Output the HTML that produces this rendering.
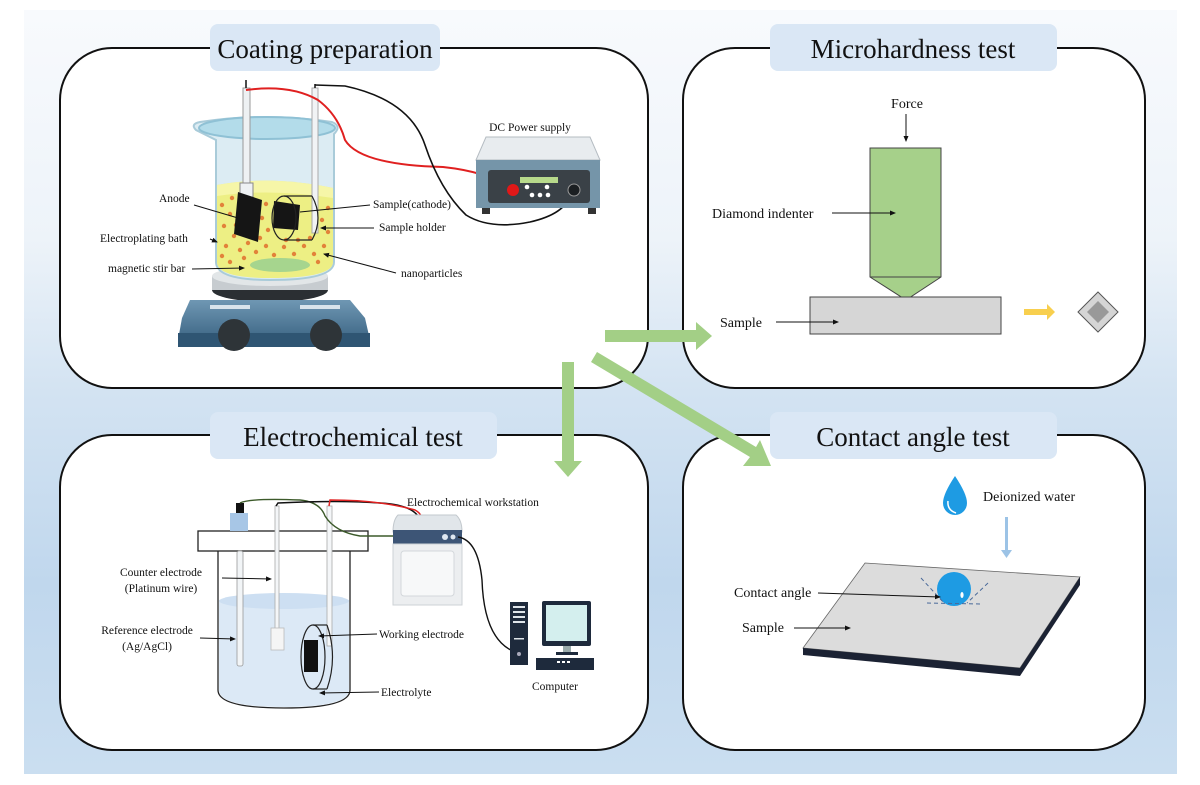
<!DOCTYPE html>
<html><head><meta charset="utf-8"><style>
html,body{margin:0;padding:0;background:#fff}
svg{display:block}
text{font-family:"Liberation Serif",serif;fill:#111}
</style></head><body>
<svg width="1200" height="785" viewBox="0 0 1200 785" xmlns="http://www.w3.org/2000/svg">
<defs>
<linearGradient id="bg" x1="0" y1="0" x2="0" y2="1">
<stop offset="0" stop-color="#f8fafd"/>
<stop offset="0.3" stop-color="#edf3f9"/>
<stop offset="0.5" stop-color="#d3e3f2"/>
<stop offset="0.75" stop-color="#c0d7ed"/>
<stop offset="1" stop-color="#cadef0"/>
</linearGradient>
<linearGradient id="plate" x1="0" y1="0" x2="0" y2="1"><stop offset="0" stop-color="#6f97b3"/><stop offset="1" stop-color="#3d6685"/></linearGradient>
<marker id="ah" markerWidth="6" markerHeight="6" refX="5" refY="3" orient="auto" markerUnits="userSpaceOnUse"><path d="M0,0.5 L6,3 L0,5.5 Z" fill="#111"/></marker>
</defs>
<rect x="24" y="10" width="1153" height="764" fill="url(#bg)"/>

<g fill="#fff" stroke="#111" stroke-width="2">
<rect x="60" y="48" width="588" height="340" rx="52"/>
<rect x="683" y="48" width="462" height="340" rx="52"/>
<rect x="60" y="435" width="588" height="315" rx="52"/>
<rect x="683" y="435" width="462" height="315" rx="52"/>
</g>
<g fill="#dae7f5">
<rect x="210" y="24" width="230" height="47" rx="8"/>
<rect x="770" y="24" width="287" height="47" rx="8"/>
<rect x="210" y="412" width="287" height="47" rx="8"/>
<rect x="770" y="412" width="287" height="47" rx="8"/>
</g>
<g font-size="27" text-anchor="middle">
<text x="325" y="58">Coating preparation</text>
<text x="913" y="58">Microhardness test</text>
<text x="353" y="446">Electrochemical test</text>
<text x="913" y="446">Contact angle test</text>
</g>

<g fill="#a3cf86">
<path d="M605,330 L696,330 L696,322 L712,336 L696,350 L696,342 L605,342 Z"/>
<path d="M562,362 L574,362 L574,461 L582,461 L568,477 L554,461 L562,461 Z"/>
<path d="M597,352 L756,447 L760,440 L771,466 L743,466 L750,457 L591,362 Z"/>
</g>

<!-- Coating preparation -->
<ellipse cx="270" cy="290" rx="58" ry="12" fill="#2b2f33"/>
<rect x="212" y="276" width="116" height="14" fill="#c7ccd0"/>
<ellipse cx="270" cy="276" rx="58" ry="10" fill="#e2e6e8"/>
<path d="M190,300 L350,300 L365,318 L370,340 L178,340 L182,318 Z" fill="url(#plate)"/>
<rect x="178" y="333" width="192" height="14" fill="#2f5573"/>
<rect x="210" y="305" width="40" height="4" fill="#d8e4ec"/>
<rect x="300" y="305" width="40" height="4" fill="#d8e4ec"/>
<circle cx="234" cy="335" r="16" fill="#2e3438"/>
<circle cx="326" cy="335" r="16" fill="#2e3438"/>
<path d="M196,130 Q190,124 200,122 Q265,112 332,122 Q342,126 334,134 L334,262 Q334,280 270,280 Q216,280 216,262 L216,140 Z" fill="#dcecf3" stroke="#a9cbd9" stroke-width="2"/>
<ellipse cx="267" cy="128" rx="68" ry="11" fill="#b3dcea" stroke="#8fc1d5" stroke-width="2"/>
<path d="M217,185 Q270,175 333,188 L333,262 Q333,278 270,278 Q217,278 217,262 Z" fill="#eef078" opacity="0.9"/>
<path d="M217,185 Q270,175 333,188 L333,198 Q270,188 217,196 Z" fill="#f6f6a8"/>
<g fill="#e2823a">
<circle cx="222" cy="205" r="2.2"/><circle cx="230" cy="214" r="2.2"/><circle cx="224" cy="226" r="2.2"/><circle cx="234" cy="236" r="2.2"/><circle cx="226" cy="246" r="2.2"/><circle cx="240" cy="250" r="2.2"/><circle cx="222" cy="256" r="2.2"/><circle cx="248" cy="243" r="2.2"/><circle cx="256" cy="252" r="2.2"/><circle cx="266" cy="246" r="2.2"/><circle cx="274" cy="255" r="2.2"/><circle cx="284" cy="247" r="2.2"/><circle cx="294" cy="254" r="2.2"/><circle cx="304" cy="246" r="2.2"/><circle cx="314" cy="254" r="2.2"/><circle cx="324" cy="246" r="2.2"/><circle cx="328" cy="232" r="2.2"/><circle cx="322" cy="220" r="2.2"/><circle cx="328" cy="208" r="2.2"/><circle cx="266" cy="204" r="2.2"/><circle cx="262" cy="218" r="2.2"/><circle cx="268" cy="230" r="2.2"/><circle cx="260" cy="238" r="2.2"/><circle cx="244" cy="258" r="2.2"/><circle cx="236" cy="225" r="2.2"/><circle cx="310" cy="238" r="2.2"/><circle cx="298" cy="240" r="2.2"/><circle cx="286" cy="240" r="2.2"/><circle cx="232" cy="198" r="2.2"/><circle cx="318" cy="262" r="2.2"/><circle cx="230" cy="262" r="2.2"/><circle cx="254" cy="232" r="2.2"/>
</g>
<ellipse cx="280" cy="265" rx="30" ry="7" fill="#a6d58e"/>
<rect x="243" y="88" width="7" height="105" fill="#eef1f3" stroke="#999" stroke-width="1"/>
<line x1="246" y1="80" x2="246" y2="88" stroke="#111" stroke-width="1.5"/>
<rect x="240" y="183" width="13" height="14" fill="#eef1f3" stroke="#888"/>
<polygon points="238,192 262,200 258,242 234,234" fill="#151515"/>
<rect x="312" y="88" width="6" height="145" fill="#f1f3f5" stroke="#aaa" stroke-width="1"/>
<line x1="315" y1="84" x2="315" y2="88" stroke="#111" stroke-width="1.5"/>
<polygon points="274,201 300,205 298,230 273,228" fill="#151515"/>
<ellipse cx="284" cy="218" rx="12" ry="22" fill="none" stroke="#222" stroke-width="1.2"/>
<line x1="284" y1="196" x2="312" y2="196" stroke="#222" stroke-width="1.2"/>
<line x1="284" y1="240" x2="312" y2="240" stroke="#222" stroke-width="1.2"/>
<path d="M312,196 Q324,218 312,240" fill="none" stroke="#222" stroke-width="1.2"/>
<path d="M246,90 Q290,84 318,100 Q338,115 345,140 Q360,165 443,167 Q490,172 513,190" fill="none" stroke="#e02020" stroke-width="2"/>
<path d="M315,85 L345,86 Q410,100 425,145 Q440,190 466,215 Q490,230 530,222 Q565,214 570,195" fill="none" stroke="#111" stroke-width="1.6"/>
<polygon points="486,137 590,137 600,160 476,160" fill="#e8ecef" stroke="#b5bcc2"/>
<rect x="476" y="160" width="124" height="48" fill="#7595a9"/>
<rect x="488" y="170" width="102" height="33" rx="3" fill="#3a4147"/>
<rect x="520" y="177" width="38" height="6" fill="#b7d98b"/>
<circle cx="513" cy="190" r="6" fill="#e01818"/>
<circle cx="574" cy="190" r="6" fill="#1b1f22" stroke="#999"/>
<circle cx="527" cy="187" r="2.3" fill="#fff"/><circle cx="547" cy="187" r="2.3" fill="#fff"/><circle cx="532" cy="195" r="2.3" fill="#fff"/><circle cx="540" cy="195" r="2.3" fill="#fff"/><circle cx="548" cy="195" r="2.3" fill="#fff"/>
<rect x="482" y="208" width="8" height="6" fill="#333"/><rect x="588" y="208" width="8" height="6" fill="#333"/>
<g font-size="11.5">
<text x="530" y="131" text-anchor="middle">DC Power supply</text>
<text x="159" y="202">Anode</text>
<text x="100" y="242">Electroplating bath</text>
<text x="108" y="272">magnetic stir bar</text>
<text x="373" y="208">Sample(cathode)</text>
<text x="379" y="231">Sample holder</text>
<text x="401" y="277">nanoparticles</text>
</g>
<g stroke="#111" stroke-width="1" fill="none">
<line x1="194" y1="205" x2="238" y2="218"/>
<line x1="210" y1="239" x2="217" y2="242" marker-end="url(#ah)"/>
<line x1="192" y1="269" x2="244" y2="268" marker-end="url(#ah)"/>
<line x1="370" y1="205" x2="300" y2="212"/>
<line x1="374" y1="228" x2="321" y2="228" marker-end="url(#ah)"/>
<line x1="396" y1="273" x2="324" y2="254" marker-end="url(#ah)"/>
</g>

<!-- Microhardness -->
<text x="907" y="108" font-size="14" text-anchor="middle">Force</text>
<line x1="906" y1="114" x2="906" y2="141" stroke="#111" stroke-width="1" marker-end="url(#ah)"/>
<path d="M870,148 L941,148 L941,277 L906,300 L870,277 Z" fill="#a6d08a" stroke="#444" stroke-width="1"/>
<line x1="870" y1="277" x2="941" y2="277" stroke="#444" stroke-width="1"/>
<rect x="810" y="297" width="191" height="37" fill="#d6d6d6" stroke="#444" stroke-width="1"/>
<text x="712" y="218" font-size="14">Diamond indenter</text>
<line x1="832" y1="213" x2="895" y2="213" stroke="#111" stroke-width="1" marker-end="url(#ah)"/>
<text x="720" y="327" font-size="14">Sample</text>
<line x1="776" y1="322" x2="838" y2="322" stroke="#111" stroke-width="1" marker-end="url(#ah)"/>
<path d="M1024,309 L1047,309 L1047,304 L1055,312 L1047,320 L1047,315 L1024,315 Z" fill="#f8cf4e"/>
<polygon points="1098,292 1118,312 1098,332 1078,312" fill="#d5d5d5" stroke="#555" stroke-width="1"/>
<polygon points="1098,301 1109,312 1098,323 1087,312" fill="#999"/>

<!-- Electrochemical -->
<path d="M218,551 L218,690 Q218,708 284,708 Q350,708 350,690 L350,551" fill="none" stroke="#222" stroke-width="1.3"/>
<path d="M219,600 Q284,590 349,600 L349,690 Q349,707 284,707 Q219,707 219,690 Z" fill="#dce9f6"/>
<ellipse cx="284" cy="601" rx="65" ry="8" fill="#cddff2"/>
<rect x="198" y="531" width="170" height="20" fill="#fff" stroke="#222" stroke-width="1.3"/>
<rect x="237" y="551" width="6" height="115" rx="2" fill="#f2f5f7" stroke="#999" stroke-width="0.8"/>
<rect x="230" y="513" width="18" height="18" fill="#a7c6e6"/>
<rect x="236" y="503" width="8" height="10" fill="#111"/>
<rect x="275" y="506" width="4" height="124" fill="#f4f6f8" stroke="#aaa" stroke-width="0.8"/>
<rect x="271" y="628" width="13" height="22" fill="#f5f5f5" stroke="#bbb" stroke-width="0.8"/>
<rect x="327" y="506" width="5" height="140" fill="#f4f6f8" stroke="#aaa" stroke-width="0.8"/>
<path d="M240,503 Q250,498 300,500 Q320,502 325,516 Q335,532 360,536 L400,536" fill="none" stroke="#3c5a2a" stroke-width="1.4"/>
<path d="M276,506 L278,503 Q340,500 380,503 Q415,505 420,520 Q420,530 410,536" fill="none" stroke="#111" stroke-width="1.5"/>
<path d="M329,506 L330,500 Q380,500 415,510 Q426,516 421,530" fill="none" stroke="#e02020" stroke-width="1.5"/>
<ellipse cx="313" cy="657" rx="12" ry="32" fill="none" stroke="#222" stroke-width="1.2"/>
<line x1="313" y1="625" x2="327" y2="625" stroke="#222" stroke-width="1.2"/>
<line x1="313" y1="689" x2="327" y2="689" stroke="#222" stroke-width="1.2"/>
<path d="M327,625 Q338,657 327,689" fill="none" stroke="#222" stroke-width="1.2"/>
<rect x="304" y="640" width="14" height="32" fill="#111"/>
<path d="M398,515 L456,515 Q462,520 462,532 L393,532 Q393,520 398,515 Z" fill="#e1e6ea" stroke="#c2c8cd"/>
<rect x="393" y="530" width="69" height="14" fill="#3d5576"/>
<rect x="393" y="544" width="69" height="61" fill="#eceef0" stroke="#cdd2d6"/>
<rect x="401" y="551" width="53" height="45" rx="3" fill="#f7f8f9" stroke="#d3d7db"/>
<circle cx="445" cy="537" r="3" fill="#dfe7f0"/><circle cx="453" cy="537" r="2.5" fill="#dfe7f0"/>
<path d="M458,537 Q478,540 482,580 Q484,640 515,652" fill="none" stroke="#111" stroke-width="1.4"/>
<rect x="510" y="602" width="18" height="63" fill="#1e2a3c"/>
<g fill="#dfe5ea"><rect x="513" y="606" width="12" height="2"/><rect x="513" y="611" width="12" height="2"/><rect x="513" y="616" width="12" height="2"/><rect x="513" y="621" width="12" height="2"/><rect x="514" y="638" width="10" height="1.5"/></g>
<circle cx="519" cy="654" r="2" fill="#aab"/>
<rect x="542" y="601" width="49" height="45" rx="2" fill="#1e2a3c"/>
<rect x="546" y="605" width="41" height="36" fill="#d4efee"/>
<rect x="563" y="646" width="8" height="8" fill="#9aa"/>
<rect x="556" y="652" width="22" height="3" fill="#1e2a3c"/>
<rect x="536" y="658" width="58" height="12" fill="#1e2a3c"/>
<g fill="#fff"><rect x="557" y="661" width="3" height="2"/><rect x="562" y="661" width="3" height="2"/><rect x="567" y="661" width="3" height="2"/></g>
<g font-size="11.5">
<text x="407" y="506">Electrochemical workstation</text>
<text x="161" y="576" text-anchor="middle">Counter electrode</text>
<text x="161" y="592" text-anchor="middle">(Platinum wire)</text>
<text x="147" y="634" text-anchor="middle">Reference electrode</text>
<text x="147" y="650" text-anchor="middle">(Ag/AgCl)</text>
<text x="379" y="638">Working electrode</text>
<text x="381" y="696">Electrolyte</text>
<text x="555" y="690" text-anchor="middle">Computer</text>
</g>
<g stroke="#111" stroke-width="1" fill="none">
<line x1="222" y1="578" x2="271" y2="579" marker-end="url(#ah)"/>
<line x1="200" y1="638" x2="235" y2="639" marker-end="url(#ah)"/>
<line x1="377" y1="634" x2="319" y2="636" marker-end="url(#ah)"/>
<line x1="379" y1="692" x2="320" y2="693" marker-end="url(#ah)"/>
</g>

<!-- Contact angle -->
<path d="M955,476 Q943,494 943,503 A12,12 0 0 0 967,503 Q967,494 955,476 Z" fill="#1e9be3"/>
<path d="M948,501 Q947,510 956,513" fill="none" stroke="#fff" stroke-width="1.5"/>
<text x="983" y="501" font-size="14">Deionized water</text>
<rect x="1005" y="517" width="3" height="34" fill="#9cc3e6"/>
<path d="M1001,550 L1012,550 L1006.5,558 Z" fill="#9cc3e6"/>
<polygon points="865,563 1080,577 1020,668 803,648" fill="#dcdcdc" stroke="#666" stroke-width="0.8"/>
<polygon points="803,648 1020,668 1020,676 803,655" fill="#1b2233"/>
<polygon points="1020,668 1080,577 1080,585 1020,676" fill="#1b2233"/>
<circle cx="954" cy="589" r="17" fill="#1e9be3"/>
<ellipse cx="962" cy="595" rx="1.6" ry="3" fill="#fff"/>
<g stroke="#4a6a9a" stroke-width="1" stroke-dasharray="4,3">
<line x1="921" y1="578" x2="944" y2="603"/>
<line x1="988" y1="583" x2="967" y2="603"/>
<line x1="927" y1="603" x2="980" y2="604"/>
</g>
<text x="734" y="597" font-size="14">Contact angle</text>
<line x1="818" y1="593" x2="940" y2="597" stroke="#111" stroke-width="1" marker-end="url(#ah)"/>
<text x="742" y="632" font-size="14">Sample</text>
<line x1="794" y1="628" x2="850" y2="628" stroke="#111" stroke-width="1" marker-end="url(#ah)"/>
</svg>
</body></html>
